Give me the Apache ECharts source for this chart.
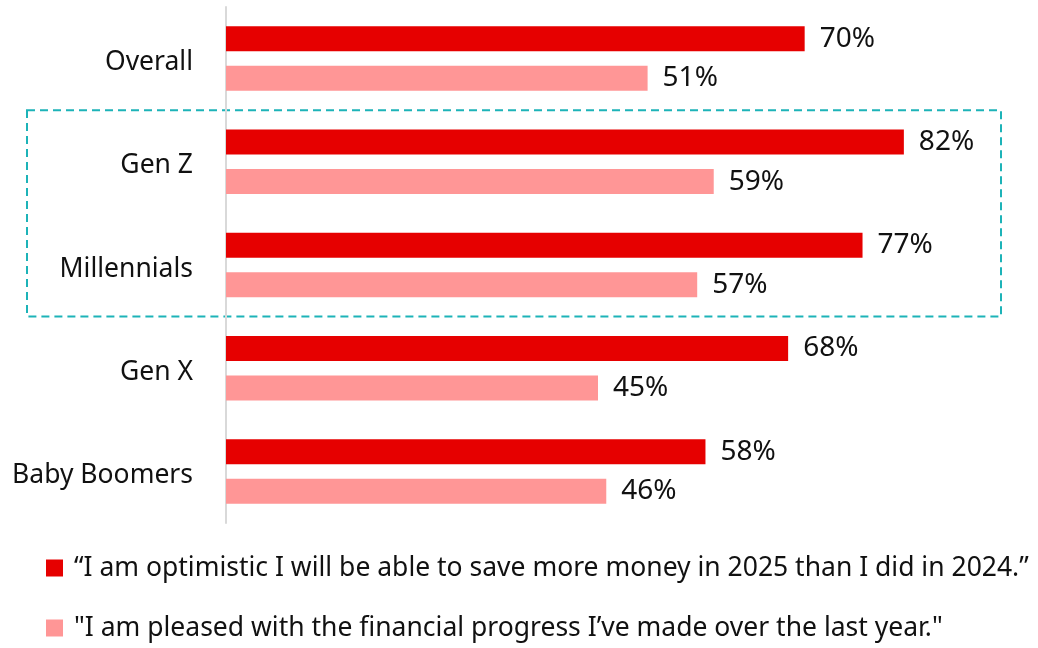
<!DOCTYPE html>
<html>
<head>
<meta charset="utf-8">
<script src="https://cdn.jsdelivr.net/npm/echarts@6/dist/echarts.min.js"></script>
<style>
  html, body { margin: 0; padding: 0; background: #fff; }
  #chart { width: 1038px; height: 648px; }
</style>
</head>
<body>
<div id="chart"></div>
<script>
// Generations shown on the category axis, top to bottom
const categories = ['Overall', 'Gen Z', 'Millennials', 'Gen X', 'Baby Boomers'];

// Share of respondents agreeing with each statement (%)
const optimisticSave = [70, 82, 77, 68, 58];
const pleasedProgress = [51, 59, 57, 45, 46];

const seriesNames = [
  '\u201cI am optimistic I will be able to save more money in 2025 than I did in 2024.\u201d',
  '"I am pleased with the financial progress I\u2019ve made over the last year."'
];

// Groups outlined by the dashed box
const highlighted = ['Gen Z', 'Millennials'];

const FONT = 'Noto Sans';
const chart = echarts.init(document.getElementById('chart'));

const labelStyle = {
  show: true,
  position: 'right',
  distance: 15,
  formatter: p => p.value + '%',
  fontFamily: FONT,
  fontSize: 28,
  color: '#111',
  padding: [4, 0, 0, 0]
};

chart.setOption({
  animation: false,
  textStyle: { fontFamily: FONT },
  grid: { left: 226, top: 7, width: 744, height: 516, containLabel: false },
  xAxis: {
    type: 'value',
    min: 0,
    max: 90,
    show: false
  },
  yAxis: {
    type: 'category',
    inverse: true,
    data: categories,
    axisLine: { show: true, lineStyle: { color: '#d9d9d9', width: 2 } },
    axisTick: { show: false },
    axisLabel: { margin: 33, fontFamily: FONT, fontSize: 26.5, color: '#111', lineHeight: 34, verticalAlign: 'top', padding: [-13, 0, 0, 0] }
  },
  legend: {
    orient: 'vertical',
    left: 46,
    top: 554,
    padding: 0,
    itemWidth: 17,
    itemHeight: 17,
    itemGap: 32,
    icon: 'rect',
    textStyle: { fontFamily: FONT, fontSize: 26.5, lineHeight: 28, color: '#111', padding: [0, 0, 0, 6] }
  },
  series: [
    {
      name: seriesNames[0],
      type: 'bar',
      data: optimisticSave,
      barWidth: 25,
      barGap: '58%',
      itemStyle: { color: '#e60000' },
      label: labelStyle
    },
    {
      name: seriesNames[1],
      type: 'bar',
      data: pleasedProgress,
      barWidth: 25,
      itemStyle: { color: '#ff9696' },
      label: labelStyle
    }
  ]
});

// Dashed outline around the highlighted category bands
const firstCenter = chart.convertToPixel({ yAxisIndex: 0 }, highlighted[0]);
const lastCenter = chart.convertToPixel({ yAxisIndex: 0 }, highlighted[highlighted.length - 1]);
const band = chart.convertToPixel({ yAxisIndex: 0 }, categories[1]) - chart.convertToPixel({ yAxisIndex: 0 }, categories[0]);
chart.setOption({
  graphic: [{
    type: 'rect',
    silent: true,
    shape: {
      x: 27,
      y: firstCenter - band / 2,
      width: 974,
      height: (lastCenter - firstCenter) + band
    },
    style: { fill: 'none', stroke: '#1db3b8', lineWidth: 2, lineDash: [8, 5] }
  }]
});
</script>
</body>
</html>
